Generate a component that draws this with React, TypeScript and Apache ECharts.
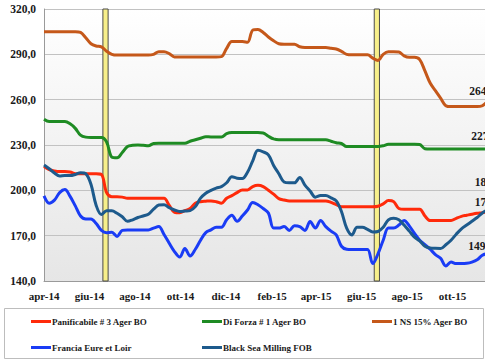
import React, { useEffect, useRef } from "react";
import * as echarts from "echarts";

// Weekly observation dates (start 1 Apr 2014, one point per week)
const weekDates: number[] = Array.from({ length: 87 }, (_, i) => new Date(2014, 3, 1 + 7 * i).getTime());

const tickLabels = ["apr-14", "giu-14", "ago-14", "ott-14", "dic-14", "feb-15", "apr-15", "giu-15", "ago-15", "ott-15"];
const tickDates = [
  new Date(2014, 3, 1), new Date(2014, 5, 1), new Date(2014, 7, 1), new Date(2014, 9, 1), new Date(2014, 11, 1),
  new Date(2015, 1, 1), new Date(2015, 3, 1), new Date(2015, 5, 1), new Date(2015, 7, 1), new Date(2015, 9, 1),
].map((d) => d.getTime());

const harvestMarks = [
  [new Date(2014, 5, 19).getTime(), new Date(2014, 5, 26).getTime()],
  [new Date(2015, 5, 18).getTime(), new Date(2015, 5, 25).getTime()],
];

const seriesNames = [
  "Panificabile # 3 Ager BO",
  "Di Forza # 1 Ager BO",
  "1 NS 15% Ager BO",
  "Francia Eure et Loir",
  "Black Sea Milling FOB",
];

const panificabile = [
  215.7, 213.7, 212.8, 212.4, 212.4, 212.2, 211, 210.9, 210.9, 210.9, 210.9, 210.5, 198.5, 195.8, 195.8, 195.5, 194.8, 194.8, 194.8, 194.8,
  194.8, 194.8, 194.8, 194.8, 190, 185.5, 185.2, 186.5, 188, 191.5, 192.5, 192.8, 193, 192.5, 191.5, 194.8, 196.5, 198.5, 200.3, 200.3,
  202.5, 203.3, 202.5, 200, 197.5, 194.5, 193.6, 193, 193, 193, 193, 193, 193, 193, 193, 192, 190.5, 189.2, 189.2, 189.2,
  189.2, 189.2, 189.2, 189.2, 189.5, 191, 193.2, 192.5, 188, 187.5, 187.5, 187.5, 187.5, 183, 180, 180, 180, 180, 180, 181.5,
  182.8, 183.5, 184.2, 184.8, 185.2, 185.8, 186,
];

const diForza = [
  247, 245.5, 245.5, 245.5, 245.5, 244, 241, 236.5, 235.2, 235, 235, 235, 232, 222, 221.5, 225, 229, 229.8, 230, 229.8,
  229.5, 231, 231.2, 231.2, 231.2, 231.2, 231.2, 231.2, 232.5, 233.5, 234.5, 235.5, 235.3, 235.3, 235.3, 237.5, 238.2, 238.2, 238.2, 238.2,
  238.2, 238.2, 238, 235.8, 234, 233.4, 233.4, 233.4, 233.4, 233.4, 233.4, 233.4, 233.4, 233.4, 233.4, 232.5, 231.5, 231, 229, 229,
  229, 229, 229, 229, 229, 229.5, 230.5, 230.5, 230.5, 230.5, 230.5, 230.5, 230.3, 227.5, 227.3, 227.3, 227.3, 227.3, 227.3, 227.3,
  227.3, 227.3, 227.3, 227.3, 227.3, 227.3, 227.3,
];

const ns15 = [
  305, 305, 305, 305, 305, 305, 305, 304.5, 301, 297, 295.5, 295, 292, 290, 289.5, 289.5, 289.5, 289.5, 289.5, 289.5,
  289.5, 290, 291.7, 291.7, 290.5, 288.3, 288.3, 288.3, 288.3, 288.3, 288.3, 288.3, 288.3, 288.3, 288.5, 294, 298.5, 298.5, 298.5, 298,
  306, 306.5, 304.5, 301.5, 299, 297, 296.7, 296.7, 296.7, 295, 294.5, 294.5, 294.5, 294.5, 294.5, 294, 293.5, 292, 290, 289.7,
  289.7, 289.7, 289.7, 287.5, 286, 290, 291.7, 291.7, 291.5, 289, 288, 288, 286.5, 279, 271, 266, 261, 256, 255.4, 255.4,
  255.4, 255.4, 255.4, 255.4, 256, 259, 264,
];

const francia = [
  196.3, 191.5, 193.5, 198.5, 200.5, 196, 189.7, 183, 181, 181, 178, 173.5, 172, 172.2, 169.5, 173.5, 173.8, 173.8, 173.8, 173.8,
  173.8, 175, 176, 170.8, 165, 159.5, 155.8, 161.5, 156.5, 161, 167, 172, 173.8, 175.5, 175.5, 180.5, 183.5, 179.5, 183, 187,
  192, 190.5, 188, 185, 175, 175, 176, 173.5, 176.5, 176, 173.5, 179.3, 175, 180, 176, 173, 170.5, 163, 161, 160.8,
  160.8, 160.8, 160.8, 151.5, 158, 167, 175, 175, 177, 180, 176.5, 171.5, 167, 164, 161, 157.5, 155, 150, 152.5, 151.5,
  151.5, 151.7, 152.5, 154, 157, 158, 158,
];

const blackSea = [
  216.8, 214.3, 211.5, 209.5, 209.8, 209.8, 210.5, 211.7, 211, 204, 190, 184, 186.5, 186.5, 184.8, 182.5, 179.5, 180.5, 182, 183,
  184.2, 187.5, 190.3, 190.5, 188.5, 187, 186, 186.3, 186.6, 189.2, 194.8, 198.1, 200, 201.5, 202.5, 205, 209, 208, 207.8, 212,
  219.5, 226.5, 225.5, 223.5, 216.5, 211, 205.5, 205, 205, 208.5, 203.5, 199.5, 195.5, 196.5, 196.5, 195, 193, 186, 175, 170.5,
  175.5, 175.5, 174.2, 172.5, 172.8, 175.5, 180.5, 181.5, 180.5, 177, 173, 169, 166.5, 163, 161.8, 161.6, 161.5, 164, 167, 171,
  174.5, 177, 179.5, 182, 185, 187, 188,
];

const endLabels = ["178,0", "227,3", "264,0", "149,0", "186,0"];

const FONT = "Liberation Serif";
const TEXT = "#1a1a1a";

export default function App() {
  const ref = useRef<HTMLDivElement>(null);

  useEffect(() => {
    if (!ref.current) return;
    const chart = echarts.init(ref.current, undefined, { renderer: "svg" });

    const values = [panificabile, diForza, ns15, francia, blackSea];
    const colors = ["#ff2a0a", "#1e8b23", "#c5581a", "#1a3cf5", "#1d5a8c"];
    const labelOffsets: [number, number][] = [
      [-26, -9.5],
      [-29.5, -13],
      [-31.5, -3],
      [-32.5, -8],
      [-26, -26.5],
    ];

    const lineSeries = values.map((vals, k) => ({
      name: seriesNames[k],
      type: "line",
      data: weekDates.map((d, i) => [d, vals[i]]),
      showSymbol: false,
      smooth: 0.35,
      lineStyle: { width: 3, color: colors[k] },
      itemStyle: { color: colors[k] },
      z: 2,
      endLabel: {
        show: true,
        formatter: endLabels[k],
        offset: labelOffsets[k],
        fontFamily: FONT,
        fontWeight: "bold",
        fontSize: 11.5,
        color: TEXT,
      },
    }));

    const legendPos = [
      { left: 31, top: 317 },
      { left: 202, top: 317 },
      { left: 372, top: 317 },
      { left: 31, top: 343 },
      { left: 202, top: 343 },
    ];

    chart.setOption({
      animation: false,
      backgroundColor: "#ffffff",
      grid: {
        left: 44,
        top: 9,
        right: 0,
        bottom: 79,
        show: true,
        borderWidth: 0,
        backgroundColor: new echarts.graphic.LinearGradient(0, 0, 0, 1, [
          { offset: 0, color: "#ffffff" },
          { offset: 1, color: "#e6e6e6" },
        ]),
      },
      xAxis: {
        type: "value",
        min: new Date(2014, 3, 1).getTime(),
        max: new Date(2015, 11, 1).getTime(),
        axisLine: { show: true, onZero: false, lineStyle: { color: "#9a9a9a", width: 1 } },
        axisTick: { show: false },
        splitLine: { show: false },
        axisLabel: {
          customValues: tickDates,
          formatter: (v: number) => {
            let best = 0;
            for (let i = 1; i < tickDates.length; i++) {
              if (Math.abs(tickDates[i] - v) < Math.abs(tickDates[best] - v)) best = i;
            }
            return tickLabels[best];
          },
          fontFamily: FONT,
          fontWeight: "bold",
          fontSize: 11,
          color: TEXT,
          margin: 9,
          hideOverlap: false,
        },
      },
      yAxis: {
        type: "value",
        min: 140,
        max: 320,
        interval: 30,
        axisLine: { show: true, lineStyle: { color: "#9a9a9a", width: 1 } },
        axisTick: { show: false },
        splitLine: { show: true, lineStyle: { color: "#c2c2c2", width: 1 } },
        axisLabel: {
          formatter: (v: number) => v.toFixed(1).replace(".", ","),
          fontFamily: FONT,
          fontWeight: "bold",
          fontSize: 11.5,
          color: TEXT,
          margin: 8,
        },
      },
      legend: seriesNames.map((n, k) => ({
        data: [n],
        left: legendPos[k].left,
        top: legendPos[k].top,
        padding: 0,
        icon: "rect",
        itemWidth: 20,
        itemHeight: 3,
        selectedMode: false,
        textStyle: {
          fontFamily: FONT,
          fontWeight: "bold",
          fontSize: 9,
          color: TEXT,
          padding: [0, 0, 0, -4],
        },
      })),
      graphic: [
        {
          type: "rect",
          shape: { x: 4.5, y: 308.5, width: 479, height: 50 },
          style: { fill: "none", stroke: "#bdbdbd", lineWidth: 1 },
          silent: true,
        },
      ],
      series: [
        ...lineSeries,
        {
          name: "harvest",
          type: "line",
          data: [],
          z: 5,
          silent: true,
          markArea: {
            silent: true,
            itemStyle: { color: "#f7ef8a", borderColor: "#4a4a4a", borderWidth: 1, opacity: 1 },
            data: harvestMarks.map(([a, b]) => [{ xAxis: a }, { xAxis: b }]),
          },
        },
      ],
    });

    return () => chart.dispose();
  }, []);

  return (
    <div style={{ position: "fixed", left: 0, top: 0, width: 485, height: 360, overflow: "hidden", background: "#fff" }}>
      <div ref={ref} style={{ width: 498, height: 360 }} />
    </div>
  );
}
